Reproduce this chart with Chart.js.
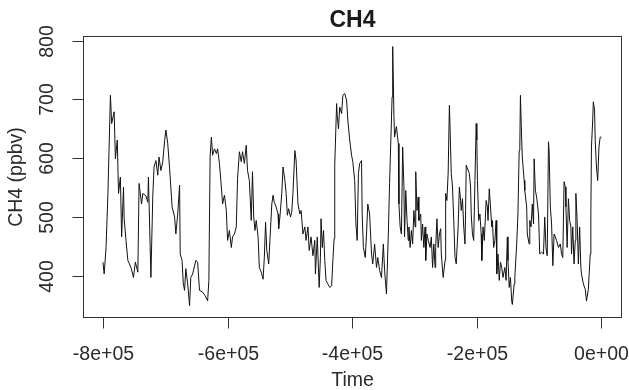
<!DOCTYPE html>
<html>
<head>
<meta charset="utf-8">
<script src="https://cdn.jsdelivr.net/npm/chart.js@4/dist/chart.umd.min.js"></script>
<style>
  body { margin: 0; background: #fff; }
  canvas { display: block; }
</style>
</head>
<body>
<canvas id="ch4Chart" width="629" height="390"></canvas>
<script>
// time in thousands of years (kyr, negative = before present)
const timeKyr = [
  -800, -798, -795, -792, -788, -786, -782, -780, -777, -775, -772, -770, -767, -766, -763, -760,
  -755, -751, -748, -744, -742, -738, -736, -731, -728, -727, -723, -720, -718, -715, -712, -710,
  -707, -704, -701, -699, -696, -693, -689, -685, -683, -680, -677, -676, -673, -671, -669, -667,
  -664, -661, -659, -656, -651, -648, -645, -640,
  -636, -632, -630, -629, -628, -626, -624, -621, -618, -616, -613, -610, -608, -605, -602, -600,
  -597, -594, -592, -589, -586, -584, -581, -578, -576, -573, -570, -568, -565, -562, -560, -558,
  -556, -554, -551, -549, -546, -543, -541, -539, -537, -534, -532, -529, -527, -525, -522, -519,
  -518, -516, -513, -511, -508, -506, -504, -502, -499, -497,
  -495, -492, -490, -487, -484, -482, -479, -476, -474, -471, -469, -466, -463, -460, -459, -456,
  -453, -451, -450, -448, -446, -444, -442, -439, -436, -433, -431, -429, -428, -425, -424, -422,
  -420, -417, -415, -412, -409, -407, -404, -401, -399, -396, -394, -392, -390, -388, -385, -384,
  -382, -379, -377, -375, -372, -369, -367, -364, -361, -359, -356, -353, -350, -348, -345, -342,
  -340, -337, -336, -335,
  -333, -332, -329, -326, -325, -323, -321, -319, -317, -316, -314, -312, -310, -309, -307, -305,
  -303, -301, -299, -298, -296, -294, -293, -290, -289, -287, -285, -283, -282, -280, -278, -275,
  -273, -271, -269, -267, -266, -264, -262, -260, -258, -257, -254, -251, -250, -248, -246, -244,
  -243, -241, -239, -237, -235, -233, -230, -228, -226, -225, -223, -221, -219, -218, -217, -214,
  -212, -210, -209, -207, -205, -203, -201, -200, -199, -197, -195, -193, -192, -190, -188, -185,
  -183, -182, -180, -178, -176, -175,
  -173, -171, -169, -168, -166, -164, -162, -160, -158, -155, -153, -151, -150, -148, -146, -144,
  -143, -140, -139, -136, -134, -132, -131, -130, -128, -127, -124, -123, -120, -119, -116, -115,
  -113, -111, -109, -108, -106, -104, -101, -99, -96, -93, -91, -89, -87, -85, -84, -82,
  -80, -78, -76, -74, -72, -69, -66, -64, -62, -60, -58, -57, -55, -53, -51, -49,
  -48, -46, -44, -42, -41, -39, -37, -35, -33, -32, -29, -26, -24, -21, -18, -17,
  -16, -14, -13, -11, -10, -8, -6, -4, -2, 0
];

// CH4 concentration (ppbv)
const ch4 = [
  423, 403, 448, 540, 707, 659, 679, 599, 631, 540, 568, 466, 551, 497, 460, 426,
  414, 397, 423, 406, 557, 522, 540, 536, 525, 568, 397, 536, 585, 596, 571, 602,
  579, 594, 630, 648, 625, 582, 517, 500, 471, 505, 554, 437, 426, 386, 375, 412,
  386, 349, 397, 403, 426, 423, 375, 372,
  366, 357, 392, 500, 602, 636, 605, 616, 608, 616, 591, 551, 522, 537, 511, 460,
  477, 448, 466, 471, 483, 565, 611, 594, 611, 591, 622, 579, 562, 494, 577, 500,
  477, 494, 466, 414, 406, 394, 431, 491, 443, 420, 460, 522, 537, 525, 517, 505,
  480, 500, 540, 585, 562, 540, 503, 514, 500, 508,
  542, 613, 596, 522, 505, 511, 471, 483, 460, 483, 443, 466, 434, 460, 403, 466,
  380, 431, 497, 448, 477, 426, 392, 386, 380, 383, 426, 463, 588, 693, 673, 650,
  687, 676, 707, 710, 699, 665, 631, 605, 594, 562, 488, 460, 574, 591, 596, 505,
  448, 431, 471, 522, 505, 437, 420, 454, 414, 431, 409, 397, 454, 409, 369, 471,
  557, 665, 704, 790,
  671, 636, 654, 625, 522, 483, 471, 619, 551, 466, 545, 494, 460, 483, 448, 477,
  454, 511, 483, 577, 511, 534, 494, 505, 460, 488, 448, 483, 426, 471, 460, 448,
  466, 414, 454, 414, 448, 497, 448, 471, 480, 437, 397, 426, 540, 528, 574, 690,
  653, 574, 551, 494, 431, 420, 483, 551, 528, 511, 531, 483, 454, 511, 588, 580,
  574, 551, 505, 471, 460, 562, 659, 631, 562, 494, 505, 471, 426, 483, 460, 528,
  517, 494, 548, 517, 483, 494,
  448, 460, 494, 403, 437, 392, 423, 414, 397, 414, 392, 466, 426, 380, 397, 357,
  351, 386, 397, 454, 505, 613, 619, 707, 631, 602, 562, 545, 517, 471, 454, 494,
  483, 522, 488, 599, 545, 534, 505, 437, 440, 437, 500, 448, 434, 628, 613, 517,
  488, 417, 471, 466, 460, 448, 454, 437, 431, 560, 551, 517, 448, 531, 494, 483,
  437, 483, 420, 460, 540, 494, 420, 483, 414, 403, 386, 377, 357, 377, 437, 505,
  619, 665, 696, 682, 631, 585, 562, 619, 636, 636
];

const xTicks = [-800, -600, -400, -200, 0];
const xTickLabels = ['-8e+05', '-6e+05', '-4e+05', '-2e+05', '0e+00'];
const yTicks = [400, 500, 600, 700, 800];
const yTickLabels = ['400', '500', '600', '700', '800'];

const FONT = '"Liberation Sans", Arial, sans-serif';
const TEXT_COLOR = '#2b2b2b';

// draws base-R style frame, axes, ticks and titles
const rStyleAxes = {
  id: 'rStyleAxes',
  afterDraw(chart) {
    const ctx = chart.ctx;
    const a = chart.chartArea;
    const x = chart.scales.x;
    const y = chart.scales.y;
    ctx.save();
    ctx.strokeStyle = '#333';
    ctx.lineWidth = 1;
    ctx.strokeRect(Math.round(a.left) + 0.5, Math.round(a.top) + 0.5,
      Math.round(a.width) - 1, Math.round(a.height) - 1);

    ctx.fillStyle = TEXT_COLOR;
    ctx.font = '19.5px ' + FONT;

    // x axis
    const xb = Math.round(a.bottom) - 0.5;
    ctx.beginPath();
    ctx.moveTo(Math.round(x.getPixelForValue(xTicks[0])), xb);
    ctx.lineTo(Math.round(x.getPixelForValue(xTicks[xTicks.length - 1])), xb);
    ctx.stroke();
    ctx.textAlign = 'center';
    ctx.textBaseline = 'middle';
    xTicks.forEach((v, i) => {
      const px = Math.round(x.getPixelForValue(v)) + 0.5;
      ctx.beginPath();
      ctx.moveTo(px, xb);
      ctx.lineTo(px, xb + 11);
      ctx.stroke();
      ctx.fillText(xTickLabels[i], px, 355);
    });

    // y axis
    const yl = Math.round(a.left) + 0.5;
    ctx.beginPath();
    ctx.moveTo(yl, Math.round(y.getPixelForValue(yTicks[0])));
    ctx.lineTo(yl, Math.round(y.getPixelForValue(yTicks[yTicks.length - 1])));
    ctx.stroke();
    yTicks.forEach((v, i) => {
      const py = Math.round(y.getPixelForValue(v)) + 0.5;
      ctx.beginPath();
      ctx.moveTo(yl, py);
      ctx.lineTo(yl - 11, py);
      ctx.stroke();
      ctx.save();
      ctx.translate(48, py);
      ctx.rotate(-Math.PI / 2);
      ctx.fillText(yTickLabels[i], 0, 0);
      ctx.restore();
    });

    // axis titles
    ctx.fillText('Time', (a.left + a.right) / 2, 381);
    ctx.save();
    ctx.translate(17, (a.top + a.bottom) / 2);
    ctx.rotate(-Math.PI / 2);
    ctx.fillText('CH4 (ppbv)', 0, 0);
    ctx.restore();

    // main title
    ctx.font = 'bold 23px ' + FONT;
    ctx.fillStyle = '#1a1a1a';
    ctx.fillText('CH4', (a.left + a.right) / 2, 21);
    ctx.restore();
  }
};

const points = timeKyr.map((t, i) => ({ x: t, y: ch4[i] }));

new Chart(document.getElementById('ch4Chart'), {
  type: 'line',
  data: {
    datasets: [{
      label: 'CH4',
      data: points,
      borderColor: '#111',
      borderWidth: 1,
      pointRadius: 0,
      tension: 0,
      fill: false
    }]
  },
  options: {
    responsive: false,
    animation: false,
    layout: { padding: { left: 83, right: 7, top: 36, bottom: 72 } },
    plugins: { legend: { display: false }, tooltip: { enabled: false } },
    scales: {
      x: { type: 'linear', min: -832, max: 33, display: false },
      y: { type: 'linear', min: 328, max: 808, display: false }
    }
  },
  plugins: [rStyleAxes]
});
</script>
</body>
</html>
